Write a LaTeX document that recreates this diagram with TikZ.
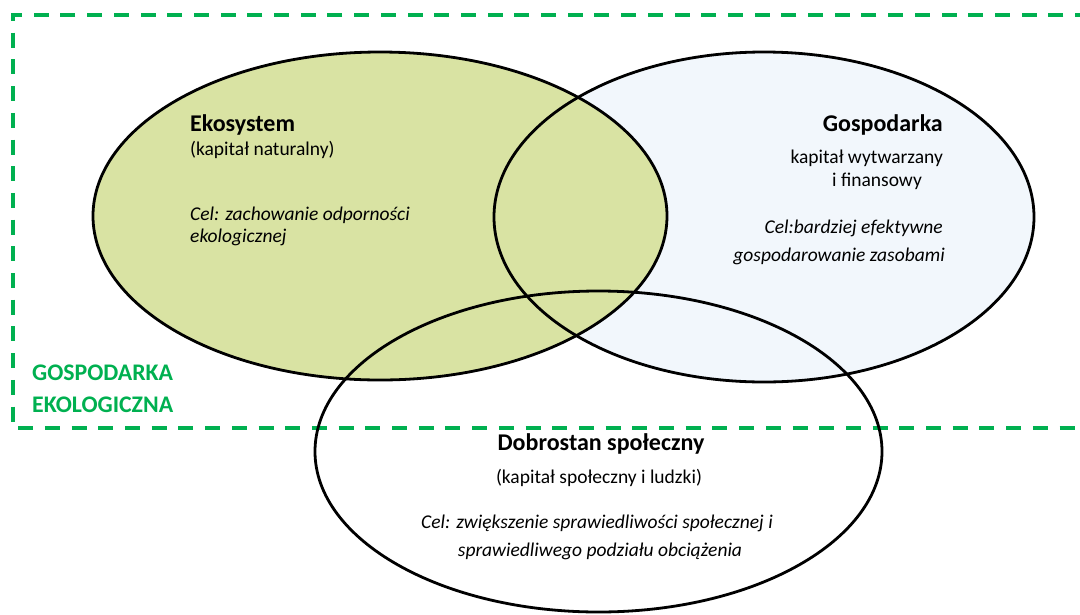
\documentclass[tikz,border=0pt]{standalone}
\usepackage{fontspec}
\setmainfont{Carlito}
\usetikzlibrary{positioning}
\definecolor{ekogreen}{RGB}{0,176,80}
\definecolor{ekofill}{RGB}{217,227,163}
\definecolor{gospfill}{RGB}{242,247,252}
\begin{document}
\begin{tikzpicture}
[
    x=1pt, y=-1pt,
    ring/.style={line width=2.8pt, black},
    frame/.style={line width=4pt, ekogreen, dash pattern=on 15pt off 11.7pt},
    head/.style={font=\fontsize{24}{28}\selectfont\bfseries, inner sep=0pt},
    sub/.style={font=\fontsize{19.5}{23}\selectfont, inner sep=0pt},
    goal/.style={font=\fontsize{19.5}{23}\selectfont\itshape, inner sep=0pt},
    tag/.style={font=\fontsize{23.8}{28}\selectfont\bfseries, text=ekogreen, inner sep=0pt},
]
\useasboundingbox (0,0) rectangle (1080,614);
\draw[frame] (1090,15) -- (13,15) -- (13,428) -- (1090,428);
\fill[gospfill] (764,217) ellipse [x radius=270, y radius=165];
\fill[ekofill] (380,216) ellipse [x radius=287, y radius=164];
\draw[ring] (764,217) ellipse [x radius=270, y radius=165];
\draw[ring] (380,216) ellipse [x radius=287, y radius=164];
\draw[ring] (598.5,451.5) ellipse [x radius=283.5, y radius=160.5];
\node[head, anchor=base west] (eko) at (190,131) {Ekosystem};
\node[sub, anchor=base west] (ekosub) at (190,155) {(kapitał naturalny)};
\node[goal, anchor=base west] (ekocel) at (190,220) {Cel: zachowanie odporności};
\node[goal, anchor=base west] (ekocelb) at (190,242) {ekologicznej};
\node[head, anchor=base east] (gosp) at (943,131) {Gospodarka};
\node[sub, anchor=base east] (gospsub) at (943,163) {kapitał wytwarzany};
\node[sub, anchor=base] (gospsubb) at (877,186) {i finansowy};
\node[goal, anchor=base east] (gospcel) at (943,233) {Cel:bardziej efektywne};
\node[goal, anchor=base east] (gospcelb) at (945,261) {gospodarowanie zasobami};
\node[head, anchor=base] (dobr) at (601,450) {Dobrostan społeczny};
\node[sub, anchor=base] (dobrsub) at (599,483) {(kapitał społeczny i ludzki)};
\node[goal, anchor=base] (dobrcel) at (597,528) {Cel: zwiększenie sprawiedliwości społecznej i};
\node[goal, anchor=base] (dobrcelb) at (600,556) {sprawiedliwego podziału obciążenia};
\node[tag, anchor=base west] (ge) at (32,380) {GOSPODARKA};
\node[tag, anchor=base west] (geb) at (32,412) {EKOLOGICZNA};
\end{tikzpicture}
\end{document}
